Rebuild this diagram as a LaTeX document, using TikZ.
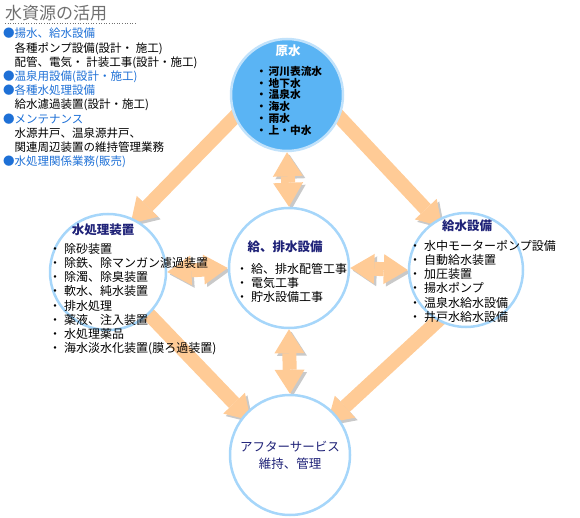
\documentclass[tikz,border=0pt]{standalone}
\usepackage{fontspec}
\setmainfont{Noto Sans CJK JP}
\usetikzlibrary{arrows.meta,positioning,backgrounds}
\definecolor{peach}{HTML}{FFCB96}
\definecolor{arrowshade}{HTML}{C9C9C9}
\definecolor{ringblue}{HTML}{A6D6FA}
\definecolor{rawblue}{HTML}{5AB4F4}
\definecolor{titlenavy}{HTML}{1F2278}
\definecolor{linkblue}{HTML}{1E70D6}
\definecolor{headgrey}{HTML}{707070}
\tikzset{
  ring/.style={circle,draw=ringblue,line width=2.5pt,fill=white,minimum size=#1,inner sep=0pt},
  srcring/.style={ring=#1,fill=rawblue,draw=ringblue!70},
  ttl/.style={font=\fontsize{12.5}{15}\selectfont\bfseries,text=titlenavy,inner sep=0pt},
  lst/.style={font=\fontsize{12}{14.2}\selectfont,align=left,anchor=north west,inner sep=0pt},
  blob/.style={-{Triangle[length=24pt,width=30pt,line width=0pt]}},
  twoway/.style={{Triangle[length=24pt,width=30pt,line width=0pt]}-{Triangle[length=24pt,width=30pt,line width=0pt]}},
  pipe/.style={line width=14pt,draw=peach,
    preaction={draw=arrowshade,transform canvas={shift={(2.5pt,-2.5pt)}}}}
}
\begin{document}
\begin{tikzpicture}[x=1pt,y=1pt]
\useasboundingbox (0,0) rectangle (580,517);
% circles
\node[srcring=112pt] (raw) at (287,422) {};
\node[ring=116pt] (treat) at (108,245) {};
\node[ring=120pt] (drain) at (289,249) {};
\node[ring=114pt] (supply) at (466,247) {};
\node[ring=120pt] (after) at (290,62) {};
% arrows behind the circles
\begin{pgfonlayer}{background}
\draw[pipe,blob,shorten <=-8pt,shorten >=-6pt] (raw.203) -- (treat.63);
\draw[pipe,blob,shorten <=-8pt,shorten >=-9pt] (raw.337) -- (supply.121);
\draw[pipe,blob,shorten <=-6pt,shorten >=-9pt] (treat.314) -- (after.138);
\draw[pipe,blob,shorten <=-6pt,shorten >=-12pt] (supply.241) -- (after.41);
\draw[pipe,twoway] (raw.south) -- (drain.north);
\draw[pipe,twoway] (treat.east) -- (drain.west);
\draw[pipe,twoway] (drain.east) -- (supply.west);
\draw[pipe,twoway] (drain.south) -- (after.north);
\end{pgfonlayer}
% heading block
\node[font=\fontsize{17}{20}\selectfont,text=headgrey,anchor=west,inner sep=0pt] (head) at (5,504) {水資源の活用};
\coordinate (dotend) at (137,494);
\draw[headgrey,dotted,line width=0.6pt] (head.west |- dotend) -- (dotend);
\node[font=\fontsize{11.5}{14.2}\selectfont,align=left,anchor=north west,inner sep=0pt] (menu) at (3,489)
  {\textcolor{linkblue}{●揚水、給水設備}\\
   　各種ポンプ設備(設計・ 施工)\\
   　配管、電気・ 計装工事(設計・施工)\\
   \textcolor{linkblue}{●温泉用設備(設計・施工)}\\
   \textcolor{linkblue}{●各種水処理設備}\\
   　給水濾過装置(設計・施工)\\
   \textcolor{linkblue}{●メンテナンス}\\
   　水源井戸、温泉源井戸、\\
   　関連周辺装置の維持管理業務\\
   \textcolor{linkblue}{●水処理関係業務(販売)}};
% texts in the circles
\node[ttl,text=white] (rawttl) at (288,466) {原水};
\node[lst,font=\fontsize{10.7}{11.8}\selectfont\bfseries] (rawlst) at (256,451)
  {・\,河川表流水\\・\,地下水\\・\,温泉水\\・\,海水\\・\,雨水\\・\,上・中水};
\node[ttl] (treatttl) at (103,287) {水処理装置};
\node[lst] (treatlst) at (49,274)
  {・\hspace{3pt}除砂装置\\・\hspace{3pt}除鉄、除マンガン濾過装置\\・\hspace{3pt}除濁、除臭装置\\
   ・\hspace{3pt}軟水、純水装置\\・\hspace{3pt}排水処理\\・\hspace{3pt}薬液、注入装置\\
   ・\hspace{3pt}水処理薬品\\・\hspace{3pt}海水淡水化装置(膜ろ過装置)};
\node[ttl] (drainttl) at (285,270) {給、排水設備};
\node[lst] (drainlst) at (236,254)
  {・\hspace{3pt}給、排水配管工事\\・\hspace{3pt}電気工事\\・\hspace{3pt}貯水設備工事};
\node[ttl] (supplyttl) at (467,291) {給水設備};
\node[lst] (supplylst) at (409,277)
  {・\hspace{3pt}水中モーターポンプ設備\\・\hspace{3pt}自動給水装置\\・\hspace{3pt}加圧装置\\
   ・\hspace{3pt}揚水ポンプ\\・\hspace{3pt}温泉水給水設備\\・\hspace{3pt}井戸水給水設備};
\node[font=\fontsize{12.5}{17}\selectfont,text=titlenavy,align=center,inner sep=0pt] (afterttl) at (after.center)
  {アフターサービス\\維持、管理};
\end{tikzpicture}
\end{document}
